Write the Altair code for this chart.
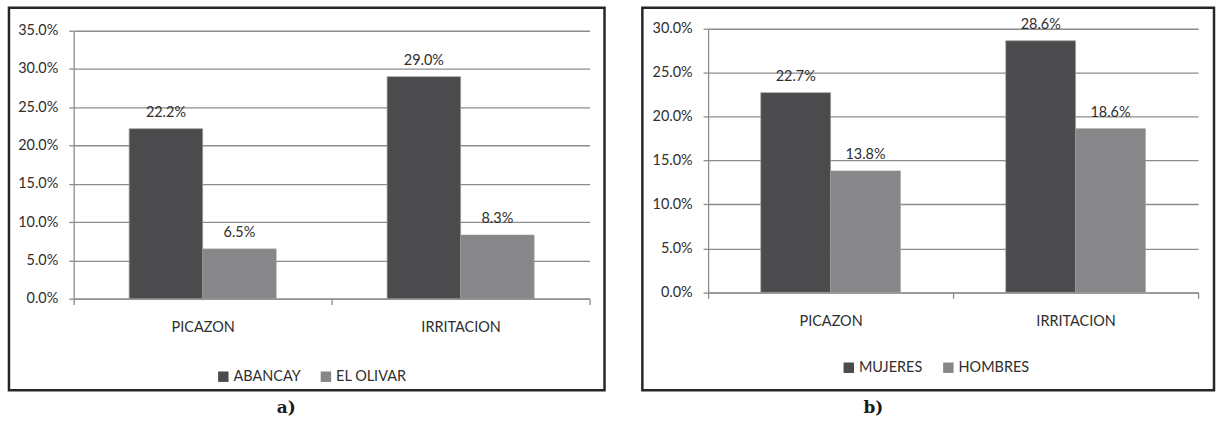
import altair as alt
import pandas as pd

# Symptoms on the category axis
categories = ["PICAZON", "IRRITACION"]

# Panel a) by district
series_a = ["ABANCAY", "EL OLIVAR"]
abancay = [0.222, 0.290]
el_olivar = [0.065, 0.083]
y_ticks_a = [0.0, 0.05, 0.10, 0.15, 0.20, 0.25, 0.30, 0.35]

# Panel b) by sex
series_b = ["MUJERES", "HOMBRES"]
mujeres = [0.227, 0.286]
hombres = [0.138, 0.186]
y_ticks_b = [0.0, 0.05, 0.10, 0.15, 0.20, 0.25, 0.30]

DARK = "#4b4b4d"
LIGHT = "#87878a"
TEXT = "#2e2e2e"
FONT = "Lato"
FONT_SIZE = 14.5


def make_frame(series, columns):
    rows = []
    for name, values in zip(series, columns):
        for cat, v in zip(categories, values):
            rows.append({"sintoma": cat, "grupo": name, "valor": v})
    return pd.DataFrame(rows)


def panel(df, series, y_ticks, w, h, x_range, y_range, legend_x, legend_y,
          caption, caption_dx):
    base = alt.Chart(df).encode(
        x=alt.X(
            "sintoma:N",
            sort=categories,
            scale=alt.Scale(range=x_range, paddingInner=0, paddingOuter=0),
            axis=alt.Axis(
                title=None, labelAngle=0, tickBand="extent", tickSize=6,
                labelPadding=16, grid=False, offset=y_range[0] - h,
            ),
        ),
        xOffset=alt.XOffset(
            "grupo:N", sort=series,
            scale=alt.Scale(paddingInner=0, paddingOuter=0.755),
        ),
        y=alt.Y(
            "valor:Q",
            scale=alt.Scale(domain=[0, y_ticks[-1]], range=y_range, nice=False),
            axis=alt.Axis(
                title=None, values=y_ticks, format=".1%", tickSize=5,
                labelPadding=11, grid=True, offset=-x_range[0],
            ),
        ),
    )
    bars = base.mark_bar(stroke="#9a9a9a", strokeWidth=0.7).encode(
        color=alt.Color(
            "grupo:N", sort=series,
            scale=alt.Scale(domain=series, range=[DARK, LIGHT]),
            legend=alt.Legend(
                title=None, orient="none", legendX=legend_x, legendY=legend_y,
                direction="horizontal", symbolType="square", symbolSize=110,
                symbolStrokeWidth=0, labelFont=FONT, labelFontSize=FONT_SIZE,
                labelColor=TEXT, columnPadding=18, labelOffset=3, padding=0,
            ),
        )
    )
    labels = base.mark_text(
        dy=-12, baseline="alphabetic", font=FONT, fontSize=FONT_SIZE, color=TEXT
    ).encode(text=alt.Text("valor:Q", format=".1%"))
    return alt.layer(bars, labels).properties(
        width=w,
        height=h,
        title=alt.TitleParams(
            text=caption, orient="bottom", anchor="start", frame="group",
            dx=caption_dx, offset=10, font="DejaVu Serif", fontSize=17,
            fontWeight="bold", color="#1a1a1a", baseline="top",
        ),
    )


H = 384
left = panel(
    make_frame(series_a, [abancay, el_olivar]), series_a, y_ticks_a,
    598, H, [65, 583], [292, 23], 208, 363, "a)", 269,
)
right = panel(
    make_frame(series_b, [mujeres, hombres]), series_b, y_ticks_b,
    574, H, [66, 558], [285.7, 20.7], 200, 354, "b)", 222,
)

chart = (
    alt.hconcat(left, right, spacing=34)
    .resolve_scale(x="independent", y="independent", color="independent",
                   xOffset="independent")
    .properties(padding={"left": 7, "top": 5, "right": 0, "bottom": 0},
                background="white")
    .configure_view(stroke="#262626", strokeWidth=2.5, fill="white")
    .configure_axis(
        domainColor="#8c8c8c", domainWidth=1.3, tickColor="#8c8c8c",
        tickWidth=1.3, gridColor="#8c8c8c", gridWidth=1.3,
        labelFont=FONT, labelFontSize=FONT_SIZE, labelColor=TEXT,
    )
)

chart.save("out.html", embed_options={"renderer": "svg", "actions": False})
